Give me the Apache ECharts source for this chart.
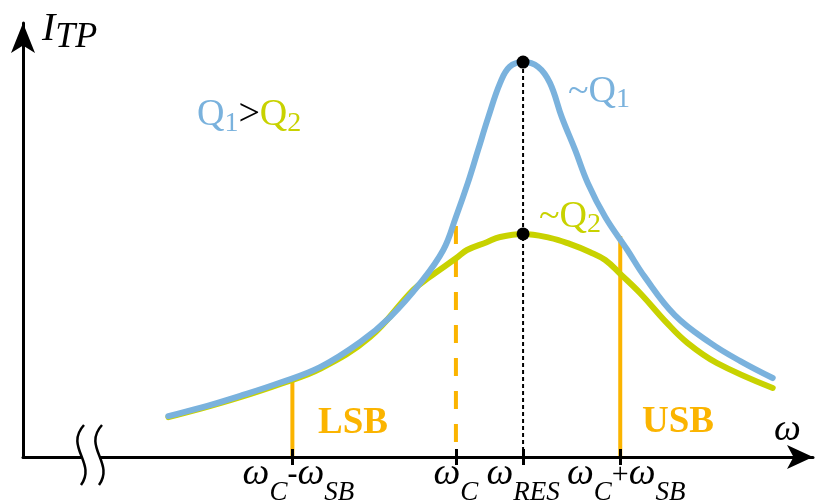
<!DOCTYPE html>
<html><head><meta charset="utf-8">
<script src="https://cdn.jsdelivr.net/npm/echarts@6/dist/echarts.min.js"></script>
<style>html,body{margin:0;padding:0;background:#fff}#c{width:827px;height:504px}</style>
</head><body><div id="c"></div><script>
// ---- data ----
const blueX = [18.4,22.4,27.5,32.5,37.6,42.7,46.5,50.3,53.2,54.8,56.3,57.6,58.9,60.4,61.6,63.3,65.2,66.7,68.2,69.9,71.5,73.7,76.5,78.7,82.5,87.0,90.8,94.9];
const blueY = [9.4,11.3,14.1,17.1,20.7,26.5,32.3,40.1,47.7,55.3,63.1,70.7,78.3,86.2,89.9,91.0,89.9,86.2,78.3,70.7,63.1,55.3,47.7,41.5,32.7,26.3,22.1,18.2];
const yellowX = [18.4,22.4,27.5,32.5,37.6,43.9,49.4,51.5,54.9,56.2,58.7,60.4,63.3,66.7,69.2,71.8,73.7,75.6,78.1,81.5,84.1,87.8,94.9];
const yellowY = [9.2,11.1,13.8,16.8,20.3,27.6,38.5,41.5,45.9,47.7,49.5,50.7,51.4,50.5,49.1,47.2,45.4,42.2,37.8,30.9,26.3,21.7,15.9];
const tickValues = [34.1, 54.8, 63.3, 75.6];
const tickLabels = ['ωC-ωSB', 'ωC', 'ωRES', 'ωC+ωSB'];
const sidebandX = [34.1, 75.6];
const sidebandTop = [17.8, 50.9];
const carrierX = 54.8, carrierTop = 53.2;
const resX = 63.3;
const peakY = [91.0, 51.4];

const BLUE = '#7AB2DD', YEL = '#C8D200', ORG = '#FBB400';
const FAM = '"Liberation Serif", serif';
const zip = (xs, ys) => xs.map((x, i) => [x, ys[i]]);

const chart = echarts.init(document.getElementById('c'), null, {renderer: 'canvas'});

const series = [
  {type:'line', data: zip(yellowX, yellowY), smooth:0.4, symbol:'none', z:3,
   lineStyle:{color:YEL, width:6, cap:'round'}},
  {type:'line', data: zip(blueX, blueY), smooth:0.4, symbol:'none', z:4,
   lineStyle:{color:BLUE, width:6, cap:'round'}},
];
sidebandX.forEach((x, i) => series.push({type:'line', data:[[x,0],[x,sidebandTop[i]]], symbol:'none', z:2,
   lineStyle:{color:ORG, width:4}}));
series.push({type:'line', data:[[carrierX,carrierTop],[carrierX,0]], symbol:'none', z:2,
   lineStyle:{color:ORG, width:4, type:[18,15]}});
series.push({type:'line', data:[[resX,peakY[0]],[resX,0]], symbol:'none', z:5,
   lineStyle:{color:'#000', width:2, type:[4,3]}});
series.push({type:'scatter', data: peakY.map(y => [resX, y]), symbol:'circle', symbolSize:13, z:6,
   itemStyle:{color:'#000', opacity:1, borderWidth:0}});

chart.setOption({
  animation: false,
  backgroundColor: '#fff',
  grid: {left: 23, right: 14, top: 23, bottom: 47, containLabel: false},
  xAxis: [{
    type:'value', min:0, max:100, z:10,
    axisLine:{show:true, onZero:false, symbol:['none','arrow'], symbolSize:[18,26], lineStyle:{color:'#000', width:3}},
    axisTick:{show:true, customValues: tickValues, length:8, inside:false, lineStyle:{color:'#000', width:3}},
    axisLabel:{show:false},
    splitLine:{show:false}
  }, {
    type:'value', min:0, max:100, position:'bottom', z:10,
    axisLine:{show:false},
    axisTick:{show:true, customValues: tickValues, length:8, inside:true, lineStyle:{color:'#000', width:3}},
    axisLabel:{show:false},
    splitLine:{show:false}
  }],
  yAxis: {
    type:'value', min:0, max:100, z:10,
    axisLine:{show:true, onZero:false, symbol:['none','arrow'], symbolSize:[18,30], lineStyle:{color:'#000', width:3}},
    axisTick:{show:false}, axisLabel:{show:false}, splitLine:{show:false}
  },
  series: series
});

// ---- text helpers: sequences of plain text pieces on a common baseline ----
const mctx = document.createElement('canvas').getContext('2d');
function fontOf(p) { return ((p.style || '') + ' ' + p.fs + 'px ' + FAM).trim(); }
function widthOf(p) { mctx.font = fontOf(p); return mctx.measureText(p.t).width; }
function seq(pieces, x0, baseline) {
  const out = [];
  let x = x0;
  pieces.forEach(p => {
    out.push({type:'text', z:100, x: x, y: baseline + (p.dy || 0) - 0.3375 * p.fs,
      style:{text:p.t, font:fontOf(p), fill:p.fill || '#000', align:'left', verticalAlign:'middle'}});
    x += widthOf(p);
  });
  return out;
}
function tickPieces(label) {
  const parts = [];
  const re = /ω([A-Z]*)|([-+])/g;
  let m;
  while ((m = re.exec(label)) !== null) {
    if (m[2]) parts.push({t:m[2], fs:30, style:m[2] === '-' ? 'bold' : '', dy:-2, op:true});
    else { parts.push({t:'ω', fs:38, style:'italic'}); if (m[1]) parts.push({t:m[1], fs:27, style:'italic', dy:15}); }
  }
  return parts;
}

const g = [
  {type:'rect', z:100, shape:{x:81, y:450, width:18, height:13}, style:{fill:'#fff'}},
  {type:'bezierCurve', z:101, shape:{x1:84,y1:425,cpx1:64,cpy1:447,cpx2:97,cpy2:463,x2:81,y2:485}, style:{stroke:'#000', lineWidth:2.5, fill:null}},
  {type:'bezierCurve', z:101, shape:{x1:102,y1:425,cpx1:82,cpy1:447,cpx2:115,cpy2:463,x2:99,y2:485}, style:{stroke:'#000', lineWidth:2.5, fill:null}},
  {type:'text', z:100, x:318, y:423, style:{text:'LSB', font:'bold 37px ' + FAM, fill:ORG, verticalAlign:'middle'}},
  {type:'text', z:100, x:642, y:422, style:{text:'USB', font:'bold 37px ' + FAM, fill:ORG, verticalAlign:'middle'}},
  {type:'text', z:100, x:774, y:430, style:{text:'ω', font:'italic 38px ' + FAM, fill:'#000', verticalAlign:'middle'}}
];
// axis name I_TP
g.push(...seq([{t:'I', fs:40, style:'italic'}, {t:'TP', fs:36, style:'italic', dy:7}], 42, 43));
// Q labels
g.push(...seq([{t:'Q', fs:38, fill:BLUE}, {t:'1', fs:28, fill:BLUE, dy:5}, {t:'>', fs:38},
               {t:'Q', fs:38, fill:YEL}, {t:'2', fs:28, fill:YEL, dy:5}], 197, 128));
g.push(...seq([{t:'~Q', fs:38, fill:BLUE}, {t:'1', fs:28, fill:BLUE, dy:4}], 568, 105));
g.push(...seq([{t:'~Q', fs:38, fill:YEL}, {t:'2', fs:28, fill:YEL, dy:4}], 539, 230));
// tick labels, placed through the x axis scale
tickValues.forEach((v, i) => {
  const px = chart.convertToPixel({xAxisIndex:0}, v);
  const parts = tickPieces(tickLabels[i]);
  const widths = parts.map(widthOf);
  const total = widths.reduce((a, b) => a + b, 0);
  let x0 = px - total / 2;
  const opIdx = parts.findIndex(p => p.op);
  if (opIdx >= 0) {
    const before = widths.slice(0, opIdx).reduce((a, b) => a + b, 0);
    x0 = px - before - widths[opIdx] / 2;
  }
  g.push(...seq(parts, x0, 487));
});
chart.setOption({graphic: g});
</script></body></html>
